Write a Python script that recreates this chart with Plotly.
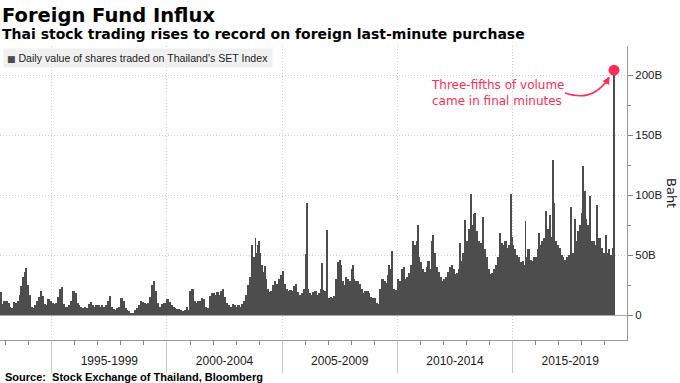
import plotly.graph_objects as go
import pandas as pd

# ---------------- data (billion baht) ----------------
v1992 = [19, 9, 12]  # Oct-Dec
v1993 = [12, 10, 7, 6, 11, 10, 12, 17, 24, 32, 36, 25]
v1994 = [17, 7, 6, 8, 12, 15, 20, 16, 9, 8, 13, 12]
v1995 = [10, 9, 10, 15, 22, 23, 9, 7, 7, 8, 12, 20]
v1996 = [18, 10, 8, 7, 6, 7, 6, 9, 11, 8, 7, 8]
v1997 = [8, 7, 8, 7, 8, 12, 16, 7, 5, 4, 6, 7]
v1998 = [14, 12, 6, 4, 3, 2, 2, 4, 6, 8, 12, 11]
v1999 = [10, 9, 10, 15, 25, 28, 20, 10, 7, 9, 10, 10]
v2000 = [13, 11, 8, 7, 6, 5, 5, 4, 3, 4, 7, 4]
v2001 = [20, 22, 12, 10, 12, 12, 14, 13, 7, 6, 16, 18]
v2002 = [18, 17, 19, 17, 20, 22, 15, 10, 8, 7, 9, 8]
v2003 = [7, 8, 7, 9, 12, 17, 25, 32, 38, 48, 52, 58]
v2004 = [52, 42, 36, 30, 22, 19, 20, 25, 28, 26, 30, 33]
v2005 = [30, 26, 22, 20, 21, 20, 24, 26, 19, 17, 18, 22]
v2006 = [35, 22, 18, 17, 19, 20, 17, 18, 22, 21, 20, 22]
v2007 = [14, 15, 14, 16, 30, 38, 42, 28, 25, 32, 30, 28]
v2008 = [38, 30, 28, 28, 26, 22, 18, 20, 20, 18, 15, 14]
v2009 = [14, 10, 9, 22, 30, 28, 27, 33, 38, 35, 22, 21]
v2010 = [30, 28, 38, 40, 30, 32, 35, 42, 52, 58, 62, 48]
v2011 = [44, 38, 36, 40, 45, 38, 45, 52, 40, 36, 32, 28]
v2012 = [30, 32, 36, 40, 42, 38, 34, 35, 38, 45, 52, 55]
v2013 = [62, 72, 80, 75, 85, 70, 62, 60, 52, 55, 48, 38]
v2014 = [34, 35, 38, 42, 48, 55, 60, 58, 62, 56, 58, 65]
v2015 = [58, 55, 50, 48, 44, 45, 42, 48, 55, 46, 45, 48]
v2016 = [48, 55, 58, 62, 64, 70, 72, 70, 65, 62, 62, 58]
v2017 = [56, 50, 48, 46, 48, 50, 48, 52, 50, 62, 70, 75]
v2018 = [85, 88, 80, 75, 70, 62, 62, 58, 60, 64, 56, 52]
v2019 = [50, 52, 55, 50, 56]  # Jan-May

monthly_values = (v1992 + v1993 + v1994 + v1995 + v1996 + v1997 + v1998 + v1999
                  + v2000 + v2001 + v2002 + v2003 + v2004 + v2005 + v2006 + v2007
                  + v2008 + v2009 + v2010 + v2011 + v2012 + v2013 + v2014 + v2015
                  + v2016 + v2017 + v2018 + v2019)
first_month = "1992-10-01"

spike_dates = ["1993-11-25", "2003-09-10", "2003-11-05", "2004-01-06", "2004-04-05",
               "2005-01-12", "2006-01-05", "2006-01-23", "2006-09-20", "2006-12-19",
               "2007-06-01", "2007-07-05", "2008-01-22", "2009-08-20", "2009-10-05",
               "2010-09-01", "2010-11-25", "2011-07-05", "2011-07-25", "2012-09-15",
               "2012-12-10", "2013-03-15", "2013-05-01", "2013-09-20", "2014-06-15",
               "2014-12-10", "2015-07-25", "2016-02-25", "2016-06-10", "2016-08-15",
               "2016-09-28", "2016-10-25", "2017-07-15", "2017-09-20", "2018-01-18",
               "2018-02-25", "2018-05-10", "2018-08-25", "2019-01-15", "2019-05-28"]
spike_values = [39, 58, 64, 62, 41, 37, 51, 93, 43, 71,
                44, 46, 42, 42, 53, 62, 75, 62, 67, 60,
                79, 101, 84, 82, 68, 101, 78, 68, 87, 83,
                129, 93, 90, 80, 124, 103, 99, 92, 67, 204]

period_starts = ["1995-01-01", "2000-01-01", "2005-01-01", "2010-01-01", "2015-01-01", "2020-01-01"]
period_labels = ["1995-1999", "2000-2004", "2005-2009", "2010-2014", "2015-2019"]
y_tickvals = [0, 50, 100, 150, 200]
y_ticktext = ["0", "50B", "100B", "150B", "200B"]

# ---------------- styling ----------------
BAR = "#4d4d4d"
RED = "#ff2d55"
GRID = "#cfcfcf"
AXIS = "#9a9a9a"
TXT = "#1a1a1a"
DAY_MS = 86400000
W, H = 680, 383
ML, MR, MT, MB = 0, 53, 46, 43
PW, PH = W - ML - MR, H - MT - MB
X_RANGE = ["1992-10-03", "2019-12-20"]


def px_x(x):
    return (x - ML) / PW


def px_y(y):
    return (H - MB - y) / PH


months = pd.date_range(first_month, periods=len(monthly_values), freq="MS") + pd.Timedelta(days=15)
bounds = pd.to_datetime(period_starts)
period_mids = [bounds[i] + (bounds[i + 1] - bounds[i]) / 2 for i in range(len(period_labels))]

fig = go.Figure()
fig.add_trace(go.Bar(x=months, y=monthly_values, width=31 * DAY_MS,
                     marker=dict(color=BAR, line=dict(width=0)), hoverinfo="skip"))
fig.add_trace(go.Bar(x=pd.to_datetime(spike_dates), y=spike_values, width=14 * DAY_MS,
                     marker=dict(color=BAR, line=dict(width=0)), hoverinfo="skip"))
fig.add_trace(go.Scatter(x=[pd.to_datetime(spike_dates[-1])], y=[spike_values[-1]], mode="markers",
                         marker=dict(color=RED, size=11), cliponaxis=False, hoverinfo="skip"))
# empty trace so that the label axis (x2) is drawn
fig.add_trace(go.Scatter(x=[], y=[], xaxis="x2", yaxis="y", hoverinfo="skip"))

fig.update_layout(
    width=W, height=H,
    margin=dict(l=ML, r=MR, t=MT, b=MB, autoexpand=False),
    paper_bgcolor="white", plot_bgcolor="white",
    showlegend=False, barmode="overlay", bargap=0,
    xaxis=dict(
        type="date", range=X_RANGE, automargin=False,
        tickmode="linear", tick0=period_starts[0], dtick="M60",
        showticklabels=False,
        ticks="outside", ticklen=32, tickcolor="#c8c8c8", tickwidth=1,
        showgrid=True, gridcolor=GRID, griddash="1px,2px", gridwidth=1,
        showline=True, linecolor=AXIS, linewidth=1, zeroline=False,
        minor=dict(tick0="1993-01-01", dtick="M12", ticks="outside", ticklen=4,
                   tickcolor="#888888", showgrid=False),
        fixedrange=True,
    ),
    xaxis2=dict(
        type="date", range=X_RANGE, overlaying="x", anchor="y", side="bottom", automargin=False,
        tickmode="array", tickvals=period_mids, ticktext=period_labels,
        ticks="", showgrid=False, showline=False, zeroline=False,
        ticklabelstandoff=12,
        tickfont=dict(family="Liberation Sans", size=12, color=TXT),
        fixedrange=True,
    ),
    yaxis=dict(
        side="right", range=[-20.83, 224.17], automargin=False,
        tickmode="array", tickvals=y_tickvals, ticktext=y_ticktext,
        ticks="outside", ticklen=5, tickcolor="#888888",
        tickfont=dict(family="Liberation Sans", size=11.5, color=TXT),
        showgrid=True, gridcolor=GRID, griddash="1px,2px", gridwidth=1,
        zeroline=True, zerolinecolor="#a8a8a8", zerolinewidth=1,
        showline=True, linecolor=AXIS, linewidth=1,
        minor=dict(tick0=0, dtick=25, ticks="outside", ticklen=3, tickcolor="#888888", showgrid=False),
        fixedrange=True,
    ),
)

legend_text = ("<span style='font-family:DejaVu Sans;font-size:9px;color:#4d4d4d'>■</span>"
               " Daily value of shares traded on Thailand's SET Index")

annotations = [
    dict(text="<b>Foreign Fund Influx</b>", x=px_x(0), y=px_y(15), xanchor="left", yanchor="middle",
         font=dict(family="DejaVu Sans", size=19.5, color="#000")),
    dict(text="<b>Thai stock trading rises to record on foreign last-minute purchase</b>",
         x=px_x(0), y=px_y(34), xanchor="left", yanchor="middle",
         font=dict(family="DejaVu Sans", size=14, color="#000")),
    dict(text=legend_text, x=px_x(3), y=px_y(57.5), xanchor="left", yanchor="middle", align="left",
         bgcolor="#f0f0f0", borderpad=3, width=262,
         font=dict(family="Liberation Sans", size=10.6, color="#222")),
    dict(text="Three-fifths of volume<br>came in final minutes", x=px_x(429), y=px_y(93),
         xanchor="left", yanchor="middle", align="left",
         font=dict(family="DejaVu Sans", size=12, color=RED)),
    dict(text="", x=px_x(609.5), y=px_y(76.5), ax=-5, ay=9, showarrow=True,
         arrowhead=2, arrowsize=1, arrowwidth=1.5, arrowcolor=RED),
    dict(text="Baht", x=px_x(672), y=px_y(193), textangle=90, xanchor="center", yanchor="middle",
         font=dict(family="DejaVu Sans", size=13, color=TXT)),
    dict(text="<b>Source:  Stock Exchange of Thailand, Bloomberg</b>", x=px_x(3), y=px_y(377),
         xanchor="left", yanchor="middle",
         font=dict(family="Liberation Sans", size=11, color="#000")),
]
for a in annotations:
    a.setdefault("xref", "paper")
    a.setdefault("yref", "paper")
    a.setdefault("showarrow", False)
fig.update_layout(annotations=annotations)

arrow_path = "M {:.4f} {:.4f} Q {:.4f} {:.4f} {:.4f} {:.4f}".format(
    px_x(565), px_y(93), px_x(593), px_y(103), px_x(609), px_y(77.5))
fig.add_shape(type="path", path=arrow_path, xref="paper", yref="paper",
              line=dict(color=RED, width=1.5))

fig.write_html("out.html", config={"displayModeBar": False},
               post_script="document.body.style.margin='0px';document.body.style.overflow='hidden';")
